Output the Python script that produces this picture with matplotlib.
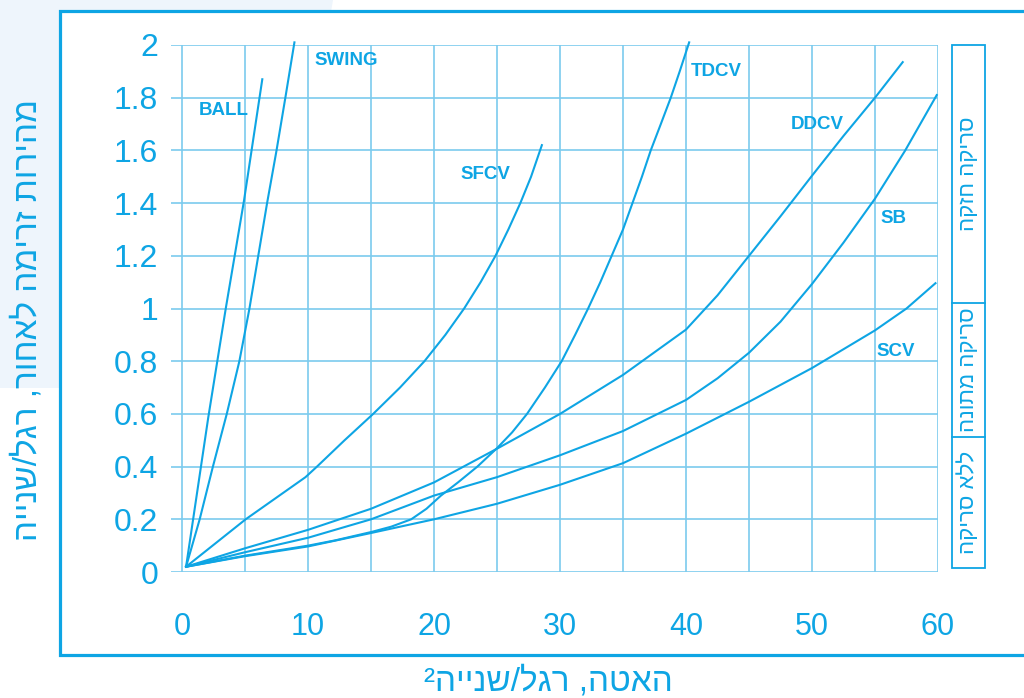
import matplotlib.pyplot as plt
from matplotlib.patches import Polygon, Rectangle
from matplotlib.lines import Line2D

# deceleration (ft/s^2) vs reverse velocity (ft/s) for each check valve type
ball_x = [0.32, 2.08, 3.47, 4.92, 6.37]
ball_y = [0.02, 0.586, 1.0, 1.41, 1.87]

swing_x = [0.32, 1.4, 2.45, 3.55, 4.55, 5.35, 6.05, 6.75, 7.5, 8.2, 8.92]
swing_y = [0.02, 0.2, 0.4, 0.6, 0.8, 1.0, 1.2, 1.4, 1.6, 1.8, 2.01]

sfcv_x = [0.32, 5.05, 9.8, 10.71, 12.9, 15.17, 17.3, 19.24, 20.9, 22.39, 23.7,
          24.88, 25.9, 26.85, 27.7, 28.56]
sfcv_y = [0.02, 0.2, 0.36, 0.40, 0.5, 0.60, 0.7, 0.80, 0.9, 1.0, 1.1,
          1.2, 1.3, 1.4, 1.5, 1.62]

tdcv_x = [0.32, 5, 10, 12.15, 15.04, 16.6, 18.19, 19.4, 20.55, 21.9, 23.44, 25,
          26.2, 27.38, 28.8, 30.13, 31.2, 32.23, 33.2, 34.1, 35.0, 35.75,
          36.5, 37.2, 38.0, 38.79, 39.5, 40.25]
tdcv_y = [0.02, 0.062, 0.10, 0.12, 0.152, 0.172, 0.2, 0.24, 0.29, 0.34, 0.4, 0.47,
          0.53, 0.6, 0.7, 0.8, 0.9, 1.0, 1.1, 1.2, 1.3, 1.4,
          1.5, 1.6, 1.7, 1.8, 1.9, 2.01]

ddcv_x = [0.32, 5, 10, 15, 20, 25, 30, 35, 40, 42.5, 45, 47.5, 50, 52.5, 55, 57.2]
ddcv_y = [0.02, 0.09, 0.16, 0.24, 0.34, 0.468, 0.60, 0.748, 0.92, 1.05, 1.2,
          1.35, 1.504, 1.655, 1.80, 1.935]

sb_x = [0.32, 5, 10, 15, 20, 25, 30, 35, 40, 42.5, 45, 47.5, 50, 52.5, 55, 57.4, 59.9]
sb_y = [0.02, 0.075, 0.13, 0.2, 0.29, 0.36, 0.443, 0.535, 0.653, 0.735, 0.832,
        0.95, 1.093, 1.25, 1.417, 1.6, 1.81]

scv_x = [0.32, 5, 10, 15, 20, 25, 30, 35, 40, 45, 50, 55, 57.5, 59.8]
scv_y = [0.02, 0.06, 0.097, 0.148, 0.2, 0.259, 0.331, 0.413, 0.525, 0.646, 0.774,
         0.917, 1.0, 1.096]

curve_names = ["BALL", "SWING", "SFCV", "TDCV", "DDCV", "SB", "SCV"]
name_pos = [(1.3, 1.75), (10.5, 1.94), (22.1, 1.51), (40.4, 1.90),
            (48.3, 1.70), (55.4, 1.34), (55.1, 0.835)]

x_ticks = [0, 10, 20, 30, 40, 50, 60]
y_ticks = [0, 0.2, 0.4, 0.6, 0.8, 1.0, 1.2, 1.4, 1.6, 1.8, 2.0]
y_ticklabels = ["0", "0.2", "0.4", "0.6", "0.8", "1", "1.2", "1.4", "1.6", "1.8", "2"]

# matplotlib has no bidi support, so Hebrew strings get reversed into visual order
x_title = "האטה, רגל/שנייה²"
y_title = "מהירות זרימה לאחור, רגל/שנייה"
zone_labels = ["סריקה חזקה", "סריקה מתונה", "ללא סריקה"]

BLUE = "#0ea5e4"
GRID = "#7ccbee"
FONT = ["Liberation Sans", "DejaVu Sans"]

plt.rcParams["font.family"] = FONT

W, H = 1024, 698
fig = plt.figure(figsize=(W / 100, H / 100), dpi=100)


def fx(px):
    return px / W


def fy(py):
    return 1 - py / H


# pale backdrop in the top-left corner and the outer frame
fig.add_artist(Polygon([(0, 1), (fx(333), 1), (fx(268), fy(388)), (0, fy(388))],
                       closed=True, transform=fig.transFigure,
                       facecolor="#eef5fc", edgecolor="none", zorder=-3))
fig.add_artist(Rectangle((fx(60), fy(655)), fx(1040) - fx(60), fy(11) - fy(655),
                         transform=fig.transFigure, facecolor="white",
                         edgecolor=BLUE, linewidth=2.3, zorder=-2))

x0 = -0.9
ax = fig.add_axes([fx(170.7), fy(572), fx(938) - fx(170.7), fy(45) - fy(572)])
ax.patch.set_visible(False)
ax.set_xlim(x0, 60)
ax.set_ylim(0, 2.0)
for s in ax.spines.values():
    s.set_visible(False)

for yv in y_ticks:
    ax.plot([x0, 60], [yv, yv], color=GRID, lw=1.2, zorder=1, solid_capstyle="butt")
for xv in range(0, 61, 5):
    ax.plot([xv, xv], [0, 2.0], color=GRID, lw=1.2, zorder=1, solid_capstyle="butt")

series = [(ball_x, ball_y), (swing_x, swing_y), (sfcv_x, sfcv_y), (tdcv_x, tdcv_y),
          (ddcv_x, ddcv_y), (sb_x, sb_y), (scv_x, scv_y)]
for (xs, ys), name, (tx, ty) in zip(series, curve_names, name_pos):
    ax.plot(xs, ys, color=BLUE, lw=1.5, zorder=3, clip_on=False,
            solid_joinstyle="round")
    ax.text(tx, ty, name, color=BLUE, fontsize=13.5, fontweight="bold",
            ha="left", va="center", zorder=4)

ax.set_xticks(x_ticks)
ax.set_xticklabels([str(v) for v in x_ticks])
ax.set_yticks(y_ticks)
ax.set_yticklabels(y_ticklabels)
ax.tick_params(axis="both", length=0, labelcolor=BLUE)
ax.tick_params(axis="x", pad=29, labelsize=22)
ax.tick_params(axis="y", pad=9, labelsize=23)

fig.text(fx(548), fy(682), x_title[::-1], color=BLUE, fontsize=24,
         ha="center", va="center")
fig.text(fx(28), fy(320), y_title[::-1], color=BLUE, fontsize=24,
         rotation=90, ha="center", va="center")

# scouring zones along the right edge
bx0, bx1 = 952, 985
edges = [45, 303, 437, 568]
fig.add_artist(Rectangle((fx(bx0), fy(edges[-1])), fx(bx1) - fx(bx0),
                         fy(edges[0]) - fy(edges[-1]), transform=fig.transFigure,
                         facecolor="none", edgecolor=BLUE, linewidth=1.3))
for e in edges[1:-1]:
    fig.add_artist(Line2D([fx(bx0), fx(bx1)], [fy(e), fy(e)],
                          transform=fig.transFigure, color=BLUE, lw=1.3))
for lab, top, bot in zip(zone_labels, edges[:-1], edges[1:]):
    fig.text(fx((bx0 + bx1) / 2), fy((top + bot) / 2), lab[::-1], color=BLUE,
             fontsize=16, rotation=90, ha="center", va="center")

fig.savefig("out.png", dpi=100)
